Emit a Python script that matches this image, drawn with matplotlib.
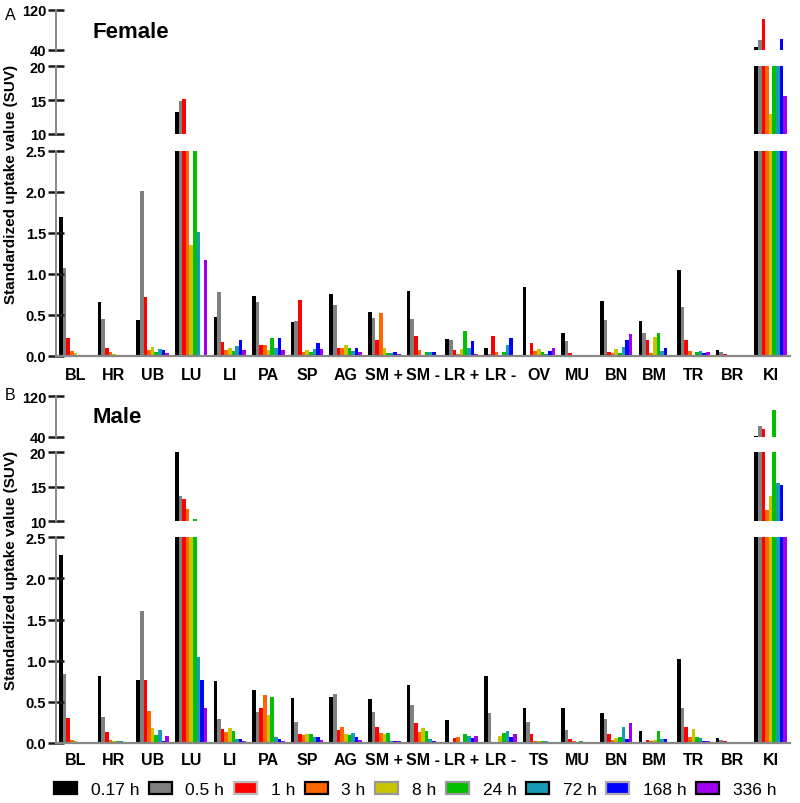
import matplotlib
matplotlib.use("Agg")
import matplotlib.pyplot as plt
from matplotlib.patches import Patch
import numpy as np

plt.rcParams['font.family'] = ['Liberation Sans', 'DejaVu Sans']

female_categories = ["BL", "HR", "UB", "LU", "LI", "PA", "SP", "AG", "SM +", "SM -",
                     "LR +", "LR -", "OV", "MU", "BN", "BM", "TR", "BR", "KI"]
male_categories = ["BL", "HR", "UB", "LU", "LI", "PA", "SP", "AG", "SM +", "SM -",
                   "LR +", "LR -", "TS", "MU", "BN", "BM", "TR", "BR", "KI"]

time_labels = ["0.17 h", "0.5 h", "1 h", "3 h", "8 h", "24 h", "72 h", "168 h", "336 h"]
colors = ["#000000", "#808080", "#ff0000", "#ff6600", "#c8c400", "#00c000", "#1a9bb5", "#0000ff", "#a000f0"]
legend_edges = ["#000000", "#000000", "#bbbbbb", "#000000", "#999999", "#999999", "#000000", "#aaaaaa", "#000000"]

# Female SUV values (per time point, categories in female_categories order)
f_017 = [1.69, 0.65, 0.43, 13.3, 0.47, 0.73, 0.41, 0.75, 0.53, 0.79, 0.20, 0.09, 0.84, 0.28, 0.67, 0.42, 1.04, 0.065, 45]
f_05 = [1.07, 0.45, 2.01, 14.9, 0.78, 0.66, 0.42, 0.62, 0.46, 0.45, 0.19, 0.02, 0.0, 0.18, 0.44, 0.28, 0.60, 0.04, 60]
f_1 = [0.22, 0.10, 0.71, 15.2, 0.17, 0.13, 0.68, 0.10, 0.19, 0.24, 0.07, 0.24, 0.15, 0.03, 0.04, 0.19, 0.19, 0.015, 101]
f_3 = [0.06, 0.04, 0.07, 4.0, 0.07, 0.13, 0.05, 0.09, 0.52, 0.065, 0.02, 0.05, 0.06, 0.01, 0.03, 0.03, 0.06, 0.01, 30]
f_8 = [0.03, 0.02, 0.11, 1.35, 0.09, 0.07, 0.07, 0.13, 0.09, 0.01, 0.08, 0.01, 0.08, 0.005, 0.08, 0.23, 0.01, 0.0, 13.0]
f_24 = [0.01, 0.01, 0.05, 3.5, 0.06, 0.21, 0.05, 0.09, 0.03, 0.05, 0.30, 0.05, 0.05, 0.0, 0.03, 0.28, 0.05, 0.0, 30]
f_72 = [0.01, 0.01, 0.085, 1.51, 0.12, 0.10, 0.08, 0.06, 0.03, 0.04, 0.09, 0.13, 0.02, 0.01, 0.11, 0.06, 0.06, 0.0, 30]
f_168 = [0.01, 0.01, 0.07, 0.0, 0.19, 0.21, 0.16, 0.09, 0.04, 0.05, 0.175, 0.21, 0.06, 0.01, 0.19, 0.09, 0.03, 0.0, 62]
f_336 = [0.005, 0.01, 0.03, 1.17, 0.07, 0.07, 0.08, 0.04, 0.02, 0.01, 0.02, 0.01, 0.09, 0.0, 0.26, 0.0, 0.04, 0.0, 15.6]

# Male SUV values
m_017 = [2.28, 0.81, 0.77, 20.3, 0.75, 0.65, 0.55, 0.555, 0.53, 0.71, 0.275, 0.82, 0.43, 0.43, 0.37, 0.14, 1.02, 0.065, 42]
m_05 = [0.84, 0.32, 1.60, 13.7, 0.29, 0.38, 0.26, 0.60, 0.38, 0.46, 0.0, 0.36, 0.255, 0.16, 0.29, 0.0, 0.42, 0.035, 61]
m_1 = [0.30, 0.13, 0.765, 13.3, 0.17, 0.43, 0.11, 0.16, 0.19, 0.24, 0.06, 0.01, 0.105, 0.05, 0.11, 0.04, 0.19, 0.025, 55]
m_3 = [0.04, 0.04, 0.39, 11.8, 0.13, 0.58, 0.10, 0.20, 0.12, 0.13, 0.07, 0.015, 0.03, 0.02, 0.035, 0.03, 0.07, 0.01, 11.6]
m_8 = [0.03, 0.03, 0.18, 8.0, 0.18, 0.34, 0.105, 0.105, 0.105, 0.18, 0.0, 0.085, 0.025, 0.015, 0.06, 0.035, 0.165, 0.0, 13.6]
m_24 = [0.015, 0.02, 0.10, 10.3, 0.14, 0.56, 0.11, 0.10, 0.12, 0.145, 0.105, 0.12, 0.02, 0.03, 0.07, 0.14, 0.075, 0.0, 93]
m_72 = [0.01, 0.02, 0.16, 1.05, 0.05, 0.07, 0.07, 0.12, 0.03, 0.045, 0.085, 0.15, 0.02, 0.01, 0.19, 0.05, 0.055, 0.0, 15.5]
m_168 = [0.01, 0.005, 0.02, 0.77, 0.045, 0.05, 0.07, 0.07, 0.025, 0.03, 0.06, 0.07, 0.015, 0.0, 0.05, 0.05, 0.03, 0.0, 15.3]
m_336 = [0.005, 0.015, 0.09, 0.43, 0.02, 0.02, 0.04, 0.04, 0.02, 0.015, 0.085, 0.11, 0.01, 0.0, 0.245, 0.0, 0.03, 0.0, 5.0]

female_series = [f_017, f_05, f_1, f_3, f_8, f_24, f_72, f_168, f_336]
male_series = [m_017, m_05, m_1, m_3, m_8, m_24, m_72, m_168, m_336]

segments = [((40, 120), [40, 120]), ((10, 20), [10, 15, 20]), ((0, 2.5), [0.0, 0.5, 1.0, 1.5, 2.0, 2.5])]

W, H = 800, 804
fig = plt.figure(figsize=(W / 100, H / 100), dpi=100)

SPINE = "#888888"
TICKC = "#1a1a1a"
bar_w = 0.0935


def px_box(top, bottom, left=56, right=790):
    return [left / W, 1 - bottom / H, (right - left) / W, (bottom - top) / H]


def draw_panel(series, cats, seg_px, title, letter, title_y, letter_y, label_y, xpad):
    x = np.arange(len(cats))
    n = len(series)
    offs = (np.arange(n) - (n - 1) / 2) * bar_w
    axes = []
    for k, ((lo, hi), ticks) in enumerate(segments):
        top, bottom = seg_px[k]
        ax = fig.add_axes(px_box(top, bottom))
        for s, vals in enumerate(series):
            ax.bar(x + offs[s], vals, width=bar_w, color=colors[s], linewidth=0)
        ax.set_xlim(-0.5, len(cats) - 0.5)
        ax.set_ylim(lo, hi)
        ax.set_yticks(ticks)
        if hi <= 2.5:
            ax.set_yticklabels(["%.1f" % t for t in ticks])
        else:
            ax.set_yticklabels(["%d" % t for t in ticks])
        for sp in ["top", "right"]:
            ax.spines[sp].set_visible(False)
        ax.spines["left"].set_color(SPINE)
        ax.spines["left"].set_linewidth(1.4)
        ax.tick_params(axis="y", direction="inout", length=11, width=1.8, color=TICKC,
                       labelsize=10.5, pad=1.5)
        for lab in ax.get_yticklabels():
            lab.set_fontweight("bold")
        if k < 2:
            ax.spines["bottom"].set_visible(False)
            ax.set_xticks([])
        else:
            ax.spines["bottom"].set_color(SPINE)
            ax.spines["bottom"].set_linewidth(1.6)
            ax.set_xticks(x)
            ax.set_xticklabels(cats, fontsize=11.5, fontweight="bold")
            ax.tick_params(axis="x", length=0, pad=xpad)
        ax.patch.set_alpha(0)
        axes.append(ax)
    fig.text(93 / W, 1 - title_y / H, title, fontsize=16, fontweight="bold", va="center", ha="left")
    fig.text(10 / W, 1 - letter_y / H, letter, fontsize=11.5, va="center", ha="center")
    fig.text(11 / W, 1 - label_y / H, "Standardized uptake value (SUV)", rotation=90,
             fontsize=11, fontweight="bold", va="center", ha="center")
    return axes


draw_panel(female_series, female_categories,
           [(11, 50.7), (67.3, 135), (151.7, 356.7)],
           "Female", "A", 32.5, 16, 184, 8)
draw_panel(male_series, male_categories,
           [(397.3, 437.7), (453.3, 522.3), (538.3, 744)],
           "Male", "B", 418, 396, 570, 6.5)

handles = [Patch(facecolor=c, edgecolor=e, linewidth=1.6) for c, e in zip(colors, legend_edges)]
fig.legend(handles, time_labels, loc="center", bbox_to_anchor=(0.519, 1 - 790.5 / H),
           ncol=9, frameon=False, fontsize=12.5, handlelength=1.32, handleheight=0.7,
           handletextpad=0.8, columnspacing=0.55, borderpad=0, borderaxespad=0)

fig.savefig("out.png", dpi=100)
